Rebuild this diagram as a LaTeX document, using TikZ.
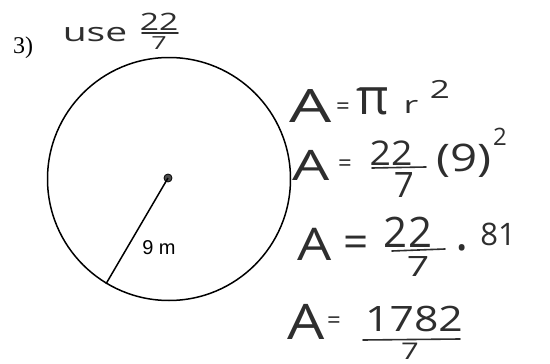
\documentclass[tikz,border=0pt]{standalone}
\usepackage{fontspec}
\newfontfamily\serifprint{Liberation Serif}
\newfontfamily\sansprint{Liberation Sans}
\newfontfamily\hand{Open Sans}
\tikzset{
  hw/.style={inner sep=0pt, text=black!82, font=\hand\fontsize{#1}{#1}\selectfont},
  fbar/.style={draw=black!82, line width=1.6pt, line cap=round},
  printed/.style={inner sep=0pt, text=black},
}
\begin{document}
\begin{tikzpicture}[x=1pt,y=-1pt]
\useasboundingbox (0,0) rectangle (550,364);
% printed figure
\node[circle, draw, line width=1.5pt, minimum size=243pt, inner sep=0pt] (circ) at (169,179) {};
\node[circle, draw, fill=black!70, line width=0.8pt, minimum size=8pt, inner sep=0pt] (ctr) at (168,178) {};
\draw[line width=1.5pt] (ctr.center) -- (circ.239.2);
\node[printed, font=\sansprint\fontsize{20}{20}\selectfont] (rad) at (159,248) {9 m};
\node[printed, font=\serifprint\fontsize{24}{24}\selectfont] (num) at (23,48) {3)};
% header
\node[hw=26] (use) at (95,35) {\scalebox{1.5}[1]{use}};
\node[hw=24] (h22) at (159,22) {\scalebox{1.4}[1]{22}};
\draw[fbar] (142,33) -- (178,33);
\node[hw=18] (h7) at (159,43) {\scalebox{1.5}[1]{7}};
% line 1
\node[hw=46] (a1) at (311,106) {\scalebox{1.45}[1]{A}};
\node[hw=24] (e1) at (343,109) {=};
\node[hw=50] (pi1) at (373,101) {π};
\node[hw=24] (r1) at (411,107) {\scalebox{1.5}[1]{r}};
\node[hw=25] (s1) at (440,89) {\scalebox{1.4}[1]{2}};
% line 2
\node[hw=42] (a2) at (311,165) {\scalebox{1.4}[1]{A}};
\node[hw=24] (e2) at (345,166) {=};
\node[hw=34] (n2) at (391,153) {\scalebox{1.1}[1]{22}};
\draw[fbar] (372,168) -- (426,167);
\node[hw=35] (d2) at (404,185) {7};
\node[hw=38] (p2) at (464,161) {\scalebox{1.25}[1]{(9)}};
\node[hw=24] (s2) at (500,137) {2};
% line 3
\node[hw=45] (a3) at (315,244) {\scalebox{1.2}[1]{A}};
\node[hw=44] (e3) at (356,247) {=};
\node[hw=42] (n3) at (408,232) {22};
\draw[fbar] (392,251) -- (445,249);
\node[hw=28] (d3) at (418,267) {\scalebox{1.4}[1]{7}};
\node[hw=50, anchor=north] (dot3) at (462,244) {·};
\node[hw=31] (m3) at (498,234) {81};
% line 4
\node[hw=49] (a4) at (306,322) {\scalebox{1.2}[1]{A}};
\node[hw=24] (e4) at (334,323) {=};
\node[hw=35] (n4) at (414,319) {\scalebox{1.22}[1]{1782}};
\draw[fbar] (363,340) -- (460,339);
\node[hw=23] (d4) at (410,351) {\scalebox{1.35}[1]{7}};
\end{tikzpicture}
\end{document}
